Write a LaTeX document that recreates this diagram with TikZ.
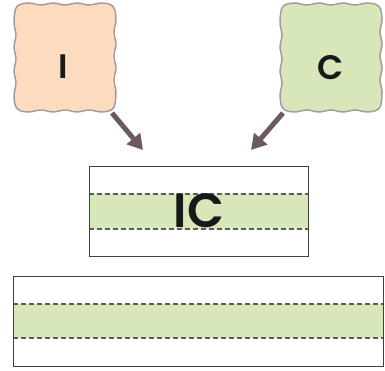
\documentclass[tikz,border=0pt]{standalone}
\usepackage{fontspec}
\setmainfont{Poppins}
\newfontfamily\lblfont{Poppins SemiBold}
\usetikzlibrary{arrows.meta}
\definecolor{peach}{HTML}{FDDBBE}
\definecolor{lgreen}{HTML}{D8E7B9}
\definecolor{wavyline}{HTML}{A39C9F}
\definecolor{arrowc}{HTML}{6B5A62}
\definecolor{dashc}{HTML}{5A5A5A}
\tikzset{
  wavybox/.pic={
    \path[pic actions,line width=1.5pt,line join=round] plot[smooth cycle,tension=0.55] coordinates {
      (5,0.5) (14,-1) (26,1) (38,-1) (50,1) (62,-1) (74,1) (86,-1) (95,0.5)
      (99.5,5) (101,16) (99,28) (101,40) (99,52) (101,64) (99,76) (101,88) (99.5,102)
      (95,106.5) (86,108) (74,106) (62,108) (50,106) (38,108) (26,106) (14,108) (5,106.5)
      (0.5,102) (-1,91) (1,79) (-1,67) (1,55) (-1,43) (1,31) (-1,19) (0.5,5)};
  },
  bigarrow/.style={draw=arrowc,line width=5pt,-{Triangle[length=15pt,width=17pt]}},
  plainbox/.style={draw=black!75,line width=0.9pt},
  band/.style={fill=lgreen,draw=none},
  bandline/.style={draw=dashc,line width=1.1pt,dash pattern=on 5pt off 3pt},
  lbl/.style={inner sep=0pt,text=black!90}
}
\begin{document}
\begin{tikzpicture}[x=1pt,y=-1pt]
\useasboundingbox (0,0) rectangle (385,371);
% top wavy boxes
\pic[fill=peach,draw=wavyline] at (15,4) {wavybox};
\pic[fill=lgreen,draw=wavyline] at (281,4) {wavybox};
\node[lbl,font=\lblfont\fontsize{34}{34}\selectfont] (I) at (63,67) {I};
\node[lbl,font=\lblfont\fontsize{34}{34}\selectfont] (C) at (331,68) {C};
\coordinate (Ia) at (112,113);
\coordinate (Ib) at (143,150);
\coordinate (Ca) at (283,113);
\coordinate (Cb) at (251,150);
\draw[bigarrow] (Ia) -- (Ib);
\draw[bigarrow] (Ca) -- (Cb);
% middle box
\fill[band] (89,194) rectangle (308,229);
\draw[bandline] (89,194) -- (308,194);
\draw[bandline] (89,229) -- (308,229);
\draw[plainbox] (89,166) rectangle (308,256.5);
\node[lbl,font=\lblfont\fontsize{48}{48}\selectfont] (IC) at (199,211) {IC};
% bottom box
\fill[band] (13,304) rectangle (383,338);
\draw[bandline] (13,304) -- (383,304);
\draw[bandline] (13,338) -- (383,338);
\draw[plainbox] (13,276) rectangle (383,366.5);
\end{tikzpicture}
\end{document}
